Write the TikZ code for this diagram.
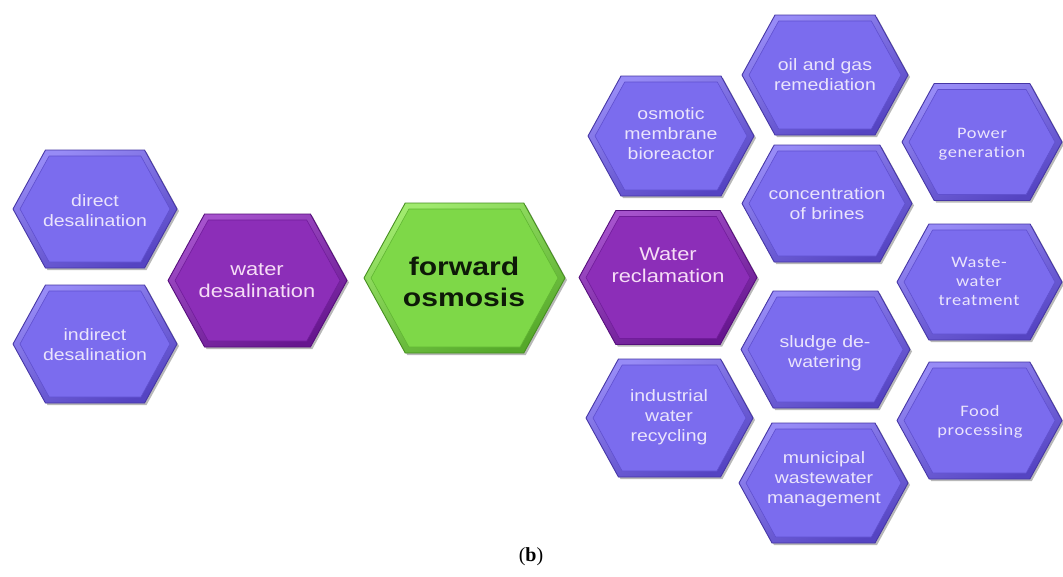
\documentclass[tikz,border=0pt]{standalone}
\usepackage{fontspec}
\newfontfamily\hexsans[FakeStretch=1.18]{Liberation Sans}
\newfontfamily\hexcal[FakeStretch=1.15,LetterSpace=4,Ligatures=NoCommon]{Carlito}
\newfontfamily\capserif{Liberation Serif}

% palettes: main fill, rim highlight, rim shade, outline
\definecolor{vmain}{HTML}{7B6CEE}
\definecolor{vlight}{HTML}{978BF6}
\definecolor{vdark}{HTML}{5544C2}
\definecolor{vedge}{HTML}{4636A6}
\definecolor{vtext}{HTML}{EAE4FC}
\definecolor{pmain}{HTML}{8C2EB8}
\definecolor{plight}{HTML}{A552CC}
\definecolor{pdark}{HTML}{66168E}
\definecolor{pedge}{HTML}{560E7C}
\definecolor{ptext}{HTML}{F6DDF6}
\definecolor{gmain}{HTML}{7ED848}
\definecolor{glight}{HTML}{A0EA6E}
\definecolor{gdark}{HTML}{55A82A}
\definecolor{gedge}{HTML}{468F20}
\definecolor{gtext}{HTML}{0E1A08}

% bevelled hexagon: #1 centre x, #2 centre y, #3 half width, #4 half height, #5 palette letter
\newcommand\hexcell[5]{%
  \pgfmathsetmacro\hxc{0.55*#4}%
  \pgfmathsetmacro\hxw{#3-7}%
  \pgfmathsetmacro\hxh{#4-6}%
  \pgfmathsetmacro\hxi{0.55*\hxh}%
  \fill[black,opacity=0.28]
    ({#1-#3+2},{#2+2}) -- ({#1-#3+\hxc+2},{#2-#4+2}) -- ({#1+#3-\hxc+2},{#2-#4+2})
    -- ({#1+#3+2},{#2+2}) -- ({#1+#3-\hxc+2},{#2+#4+2}) -- ({#1-#3+\hxc+2},{#2+#4+2}) -- cycle;
  \path[shading=axis,top color=#5light,bottom color=#5dark,shading angle=25,
        draw=#5edge,line width=0.9pt,line join=round]
    ({#1-#3},#2) -- ({#1-#3+\hxc},{#2-#4}) -- ({#1+#3-\hxc},{#2-#4})
    -- ({#1+#3},#2) -- ({#1+#3-\hxc},{#2+#4}) -- ({#1-#3+\hxc},{#2+#4}) -- cycle;
  \path[fill=#5main,draw=#5dark!70!#5main,line width=0.6pt,line join=round]
    ({#1-\hxw},#2) -- ({#1-\hxw+\hxi},{#2-\hxh}) -- ({#1+\hxw-\hxi},{#2-\hxh})
    -- ({#1+\hxw},#2) -- ({#1+\hxw-\hxi},{#2+\hxh}) -- ({#1-\hxw+\hxi},{#2+\hxh}) -- cycle;
}

\tikzset{
  lbl/.style={align=center,inner sep=0pt,text=vtext,
    font=\hexsans\fontsize{16.5}{20}\selectfont},
  lblcal/.style={align=center,inner sep=0pt,text=vtext,
    font=\hexcal\fontsize{16}{19}\selectfont},
  lblmid/.style={align=center,inner sep=0pt,text=ptext,
    font=\hexsans\fontsize{18.5}{22}\selectfont},
  lblhub/.style={align=center,inner sep=0pt,text=gtext,
    font=\hexsans\bfseries\fontsize{25.5}{30.5}\selectfont},
}

\begin{document}
\begin{tikzpicture}[x=1pt,y=-1pt]
\useasboundingbox[fill=white] (0,0) rectangle (1063,576);

% left branch
\hexcell{95}{209}{82}{59}{v}
\hexcell{95}{344}{82}{59}{v}
\hexcell{257.5}{280.5}{89.5}{66.5}{p}
% hub
\hexcell{464.5}{278}{100.5}{75}{g}
% right branch
\hexcell{668}{277.5}{89}{67}{p}
\hexcell{671}{136}{83}{60}{v}
\hexcell{825}{75}{83}{60}{v}
\hexcell{827}{203.5}{85}{58.5}{v}
\hexcell{982}{142}{80}{58.5}{v}
\hexcell{979.5}{282}{82.5}{58}{v}
\hexcell{825.5}{349.5}{84.5}{58.5}{v}
\hexcell{669.5}{418}{83.5}{59}{v}
\hexcell{979.5}{420.5}{82.5}{58.5}{v}
\hexcell{823.5}{483}{84.5}{60}{v}

% labels
\node[lbl] (direct) at (95,211) {direct\\desalination};
\node[lbl] (indirect) at (95,345) {indirect\\desalination};
\node[lblmid] (desal) at (257,281) {water\\desalination};
\node[lblhub] (fo) at (464,282) {forward\\osmosis};
\node[lblmid] (reclaim) at (668,265) {Water\\reclamation};
\node[lbl] (ombr) at (671,134) {osmotic\\membrane\\bioreactor};
\node[lbl] (oilgas) at (825,75) {oil and gas\\remediation};
\node[lbl] (brines) at (827,204) {concentration\\of brines};
\node[lblcal] (power) at (982,144) {Power\\generation};
\node[lblcal] (waste) at (979,281) {Waste-\\water\\treatment};
\node[lbl] (sludge) at (825,353) {sludge de-\\watering};
\node[lbl] (industrial) at (669,417) {industrial\\water\\recycling};
\node[lblcal] (food) at (980,422) {Food\\processing};
\node[lbl] (municipal) at (824,479) {municipal\\wastewater\\management};

% caption
\node[inner sep=0pt,font=\capserif\fontsize{20}{22}\selectfont] (cap) at (531,557) {(\textbf{b})};
\end{tikzpicture}
\end{document}
